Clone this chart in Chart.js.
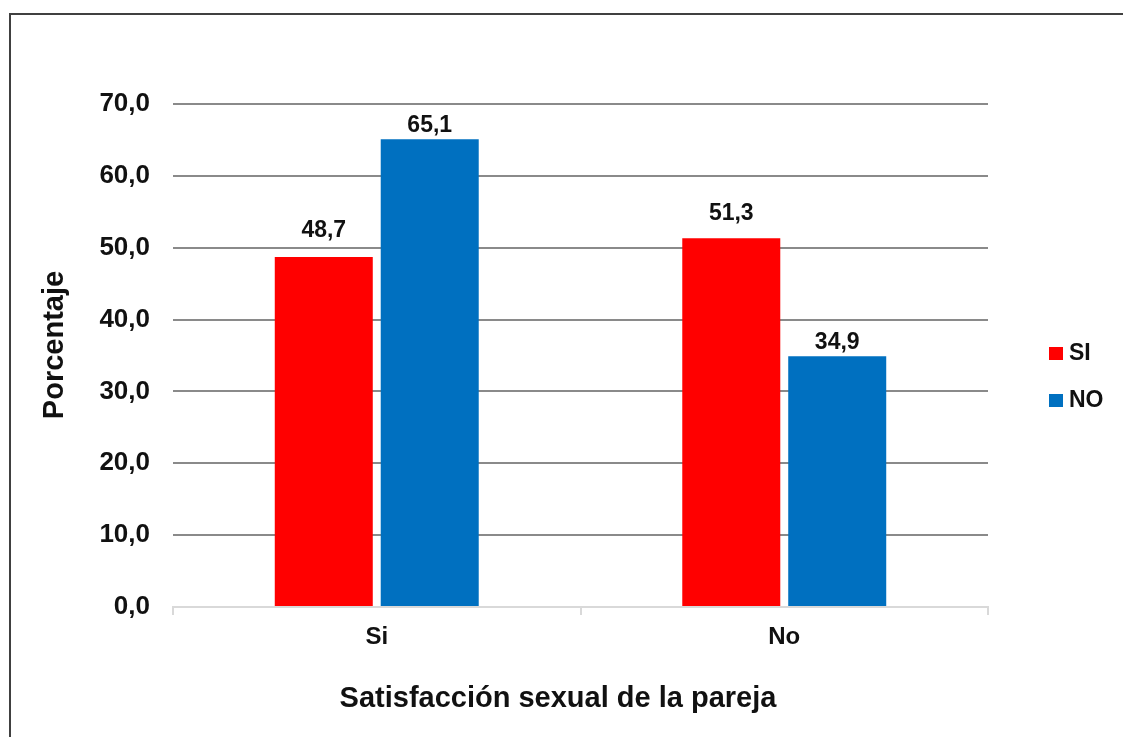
<!DOCTYPE html>
<html>
<head>
<meta charset="utf-8">
<script src="https://cdn.jsdelivr.net/npm/chart.js@4/dist/chart.umd.min.js"></script>
<style>
  html, body { margin: 0; padding: 0; background: #fff; }
  #wrap { width: 1123px; height: 737px; }
</style>
</head>
<body>
<div id="wrap"><canvas id="chart" width="1123" height="737"></canvas></div>
<script>
// Data
const categories = ['Si', 'No']
const seriesNames = ['SI', 'NO']
const siValues = [48.7, 51.3]
const noValues = [65.1, 34.9]
const yTicks = [0, 10, 20, 30, 40, 50, 60, 70]
const yTitle = 'Porcentaje'
const xTitle = 'Satisfacción sexual de la pareja'

const colors = ['#ff0000', '#0070c0']
const fontFamily = "'Liberation Sans', Arial, sans-serif"

// gap between bar top and label baseline (labels were hand-placed in the original)
const labelGaps = [[20, 18], [7, 7]]

const fmt = v => v.toFixed(1).replace('.', ',')

// frame around the chart, only left/top edges fall inside the window
const framePlugin = {
  id: 'frame',
  beforeDraw(chart) {
    const ctx = chart.ctx
    ctx.save()
    ctx.strokeStyle = '#404040'
    ctx.lineWidth = 2
    ctx.strokeRect(10, 14, 1300, 900)
    ctx.restore()
  }
}

// value labels above bars, axis titles and the legend on the right
const extrasPlugin = {
  id: 'extras',
  afterDatasetsDraw(chart) {
    const ctx = chart.ctx
    ctx.save()
    ctx.fillStyle = '#111'
    ctx.font = `bold 23px ${fontFamily}`
    ctx.textAlign = 'center'
    ctx.textBaseline = 'alphabetic'
    chart.data.datasets.forEach((ds, i) => {
      chart.getDatasetMeta(i).data.forEach((bar, j) => {
        ctx.fillText(fmt(ds.data[j]), bar.x, bar.y - labelGaps[i][j])
      })
    })

    // x title
    ctx.font = `bold 29px ${fontFamily}`
    ctx.textBaseline = 'middle'
    ctx.fillText(xTitle, 558, 699)

    // y title
    ctx.save()
    ctx.translate(55, 345)
    ctx.rotate(-Math.PI / 2)
    ctx.fillText(yTitle, 0, 0)
    ctx.restore()

    // legend
    ctx.font = `bold 23px ${fontFamily}`
    ctx.textAlign = 'left'
    chart.data.datasets.forEach((ds, i) => {
      const y = 353 + i * 47
      ctx.fillStyle = ds.backgroundColor
      ctx.fillRect(1049, y - 6, 14, 13)
      ctx.fillStyle = '#111'
      ctx.fillText(ds.label, 1069, y + 1)
    })
    ctx.restore()
  }
}

const config = {
  type: 'bar',
  data: {
    labels: categories,
    datasets: [
      { label: seriesNames[0], data: siValues, backgroundColor: colors[0] },
      { label: seriesNames[1], data: noValues, backgroundColor: colors[1] }
    ]
  },
  options: {
    responsive: false,
    animation: false,
    devicePixelRatio: 1,
    barPercentage: 0.925,
    categoryPercentage: 0.52,
    layout: { padding: { top: 104, right: 135, left: 0, bottom: 0 } },
    plugins: {
      legend: { display: false },
      tooltip: { enabled: false }
    },
    scales: {
      x: {
        afterFit: s => { s.height = 130 },
        grid: {
          offset: true,
          drawOnChartArea: false,
          drawTicks: true,
          tickLength: 8,
          color: '#d9d9d9',
          lineWidth: 2
        },
        border: { display: true, color: '#d9d9d9', width: 2 },
        ticks: {
          color: '#111',
          padding: 8,
          font: { family: fontFamily, size: 24, weight: 'bold' }
        }
      },
      y: {
        min: 0,
        max: 70,
        afterFit: s => { s.width = 173 },
        afterBuildTicks: s => { s.ticks = yTicks.map(v => ({ value: v })) },
        grid: {
          drawTicks: false,
          color: ctx => ctx.tick && ctx.tick.value === 0 ? 'rgba(0,0,0,0)' : '#8a8a8a',
          lineWidth: 2
        },
        border: { display: false },
        ticks: {
          color: '#111',
          padding: 23,
          font: { family: fontFamily, size: 26, weight: 'bold' },
          callback: v => fmt(v)
        }
      }
    }
  },
  plugins: [framePlugin, extrasPlugin]
}

new Chart(document.getElementById('chart'), config)
</script>
</body>
</html>
